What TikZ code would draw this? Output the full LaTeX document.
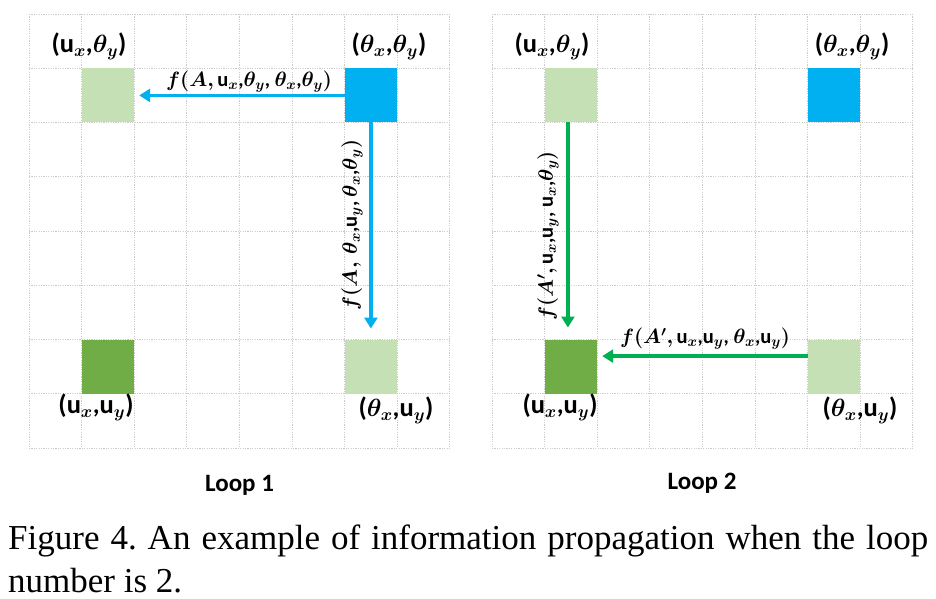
\documentclass[tikz,border=0pt]{standalone}
\usepackage{amsmath}
\usepackage{fontspec}
\setmainfont{Liberation Serif}
\newfontfamily\carl{Carlito}
\usetikzlibrary{arrows.meta}
\definecolor{lgreen}{HTML}{C5E0B4}
\definecolor{cblue}{HTML}{00B0F0}
\definecolor{dgreen}{HTML}{70AD47}
\definecolor{agreen}{HTML}{00B050}
\tikzset{
  gridline/.style={draw=black!20, line width=0.9pt, dash pattern=on 1.2pt off 1.2pt},
  cell/.style={minimum width=52.6pt, minimum height=54.2pt, inner sep=0pt, outer sep=0pt, draw=none},
  lightcell/.style={cell, fill=lgreen},
  bluecell/.style={cell, fill=cblue},
  darkcell/.style={cell, fill=dgreen},
  poslab/.style={font=\carl\bfseries\boldmath\fontsize{26.5}{30}\selectfont, inner sep=0pt},
  arrlab/.style={font=\carl\bfseries\boldmath\fontsize{20.5}{24}\selectfont, inner sep=0pt},
  looplab/.style={font=\carl\bfseries\fontsize{25}{28}\selectfont, inner sep=0pt, anchor=base},
  bluearrow/.style={draw=cblue, line width=3.5pt, -{Triangle[width=13pt,length=11pt]}},
  greenarrow/.style={draw=agreen, line width=3.5pt, -{Triangle[width=13pt,length=11pt]}},
  captext/.style={font=\fontsize{35}{40}\selectfont\frenchspacing, inner sep=0pt, anchor=base west},
}
\begin{document}
\begin{tikzpicture}[x=1pt, y=-1pt]
\useasboundingbox[fill=white] (0,0) rectangle (936,599);
% grids
\foreach \xo in {29,492}{
  \foreach \i in {0,...,8}{
    \draw[gridline] ({\xo+\i*52.6},14) -- ({\xo+\i*52.6},448);
    \draw[gridline] (\xo,{14+\i*54.25}) -- ({\xo+8*52.6},{14+\i*54.25});
  }
}
% cells loop 1
\node[lightcell] (lg1a) at (107.9,95.4) {};
\node[bluecell]  (b1)   at (370.9,95.4) {};
\node[darkcell]  (dg1)  at (107.9,366.6) {};
\node[lightcell] (lg1b) at (370.9,366.6) {};
% cells loop 2
\node[lightcell] (lg2a) at (570.9,95.4) {};
\node[bluecell]  (b2)   at (833.9,95.4) {};
\node[darkcell]  (dg2)  at (570.9,366.6) {};
\node[lightcell] (lg2b) at (833.9,366.6) {};
% position labels
\node[poslab] (t1) at (89,46) {(u$_x$,$\theta_y$)};
\node[poslab] (t2) at (389,46) {($\theta_x$,$\theta_y$)};
\node[poslab] (t3) at (96,407) {(u$_x$,u$_y$)};
\node[poslab] (t4) at (396,410) {($\theta_x$,u$_y$)};
\node[poslab] (t5) at (552,46) {(u$_x$,$\theta_y$)};
\node[poslab] (t6) at (852,46) {($\theta_x$,$\theta_y$)};
\node[poslab] (t7) at (560,407) {(u$_x$,u$_y$)};
\node[poslab] (t8) at (860,410) {($\theta_x$,u$_y$)};
% arrows loop 1
\draw[bluearrow, shorten >=5pt] (b1.west) -- (lg1a.east);
\draw[bluearrow, shorten >=11pt] (b1.south) -- (lg1b.north);
% arrows loop 2
\draw[greenarrow, shorten >=12pt] ([xshift=-3pt]lg2a.south) -- ([xshift=-3pt]dg2.north);
\draw[greenarrow, shorten >=5pt] ([yshift=10.5pt]lg2b.west) -- ([yshift=10.5pt]dg2.east);
% arrow labels
\node[arrlab] (l1h) at (249,82) {$f(A,$\,u$_x$,$\theta_y$, $\theta_x$,$\theta_y)$};
\node[arrlab, rotate=90] (l1v) at (352,225) {$f(A,\,\theta_x$,u$_y$, $\theta_x$,$\theta_y)$};
\node[arrlab, rotate=90] (l2v) at (548,236) {$f(A',$\,u$_x$,u$_y$, u$_x$,$\theta_y)$};
\node[arrlab] (l2h) at (705,339) {$f(A',$\,u$_x$,u$_y$, $\theta_x$,u$_y)$};
% loop labels
\node[looplab] (loop1) at (239.5,491) {Loop 1};
\node[looplab] (loop2) at (702,489) {Loop 2};
% caption
\node[captext] (cap1) at (8,549) {\makebox[920pt][s]{Figure 4. An example of information propagation when the loop}};
\node[captext] (cap2) at (8,592) {number is 2.};
\end{tikzpicture}
\end{document}
